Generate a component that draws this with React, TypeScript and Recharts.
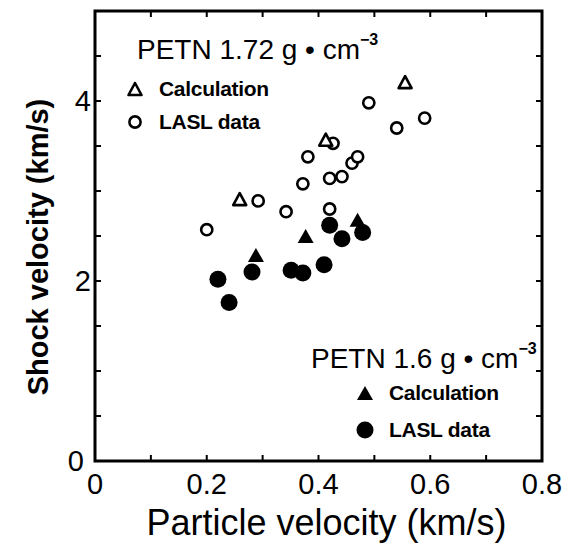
import React from 'react';
import { ScatterChart, Scatter, XAxis, YAxis, ReferenceArea } from 'recharts';

// PETN 1.72 g/cm3
const calc172X = [0.259, 0.413, 0.555];
const calc172Y = [2.91, 3.57, 4.21];
const lasl172X = [0.2, 0.292, 0.342, 0.372, 0.381, 0.42, 0.42, 0.442, 0.426, 0.46, 0.47, 0.49, 0.54, 0.59];
const lasl172Y = [2.57, 2.89, 2.77, 3.08, 3.38, 2.8, 3.14, 3.16, 3.53, 3.31, 3.38, 3.98, 3.7, 3.81];

// PETN 1.6 g/cm3
const calc16X = [0.288, 0.377, 0.47];
const calc16Y = [2.29, 2.5, 2.68];
const lasl16X = [0.22, 0.24, 0.281, 0.351, 0.372, 0.41, 0.42, 0.442, 0.479];
const lasl16Y = [2.02, 1.76, 2.1, 2.12, 2.09, 2.18, 2.62, 2.47, 2.54];

const xTicks = [0, 0.1, 0.2, 0.3, 0.4, 0.5, 0.6, 0.7, 0.8];
const xLabels = ['0', '0.2', '0.4', '0.6', '0.8'];
const yTicks = [0, 0.5, 1, 1.5, 2, 2.5, 3, 3.5, 4, 4.5, 5];
const yLabels = ['0', '2', '4'];

const toPoints = (xs: number[], ys: number[]) => xs.map((x, i) => ({ x, y: ys[i] }));

const FONT = '"Liberation Sans", Arial, sans-serif';

const W = 578;
const H = 547;
const MARGIN = { top: 11, right: 36, bottom: 0, left: 0 };
const X_AXIS_H = 86;
const Y_AXIS_W = 95;
const PLOT_W = W - MARGIN.right - Y_AXIS_W;
const PLOT_H = H - MARGIN.top - X_AXIS_H;

type Kind = 'openTri' | 'openCircle' | 'tri' | 'circle';

function Marker({ cx, cy, kind }: { cx: number; cy: number; kind: Kind }) {
  if (kind === 'openCircle') {
    return <circle cx={cx} cy={cy} r={5.6} fill="#fff" stroke="#000" strokeWidth={2.6} />;
  }
  if (kind === 'circle') {
    return <circle cx={cx} cy={cy} r={8.5} fill="#000" />;
  }
  if (kind === 'openTri') {
    const w = 6.5;
    const h = 6;
    return (
      <polygon
        points={`${cx},${cy - h} ${cx - w},${cy + h} ${cx + w},${cy + h}`}
        fill="#fff"
        stroke="#000"
        strokeWidth={2.6}
        strokeLinejoin="round"
      />
    );
  }
  const w = 8;
  const h = 7;
  return <polygon points={`${cx},${cy - h} ${cx - w},${cy + h} ${cx + w},${cy + h}`} fill="#000" />;
}

const shapeFor = (kind: Kind) => (props: any) => <Marker cx={props.cx} cy={props.cy} kind={kind} />;

// bottom ticks, mirrored on the top edge of the frame
function BottomTick({ x, y, payload }: any) {
  const v = payload.value as number;
  const label = xLabels.find((l) => Math.abs(parseFloat(l) - v) < 1e-6);
  const top = y - PLOT_H;
  return (
    <g>
      <line x1={x} y1={y} x2={x} y2={y - 6} stroke="#000" strokeWidth={2} />
      <line x1={x} y1={top} x2={x} y2={top + 6} stroke="#000" strokeWidth={2} />
      {label && (
        <text x={x} y={y + 33} textAnchor="middle" fontSize={29} fontFamily={FONT} fill="#000">
          {label}
        </text>
      )}
    </g>
  );
}

// left ticks, mirrored on the right edge of the frame
function LeftTick({ x, y, payload }: any) {
  const v = payload.value as number;
  const label = yLabels.find((l) => Math.abs(parseFloat(l) - v) < 1e-6);
  const right = x + PLOT_W;
  return (
    <g>
      <line x1={x} y1={y} x2={x + 6} y2={y} stroke="#000" strokeWidth={2} />
      <line x1={right} y1={y} x2={right - 6} y2={y} stroke="#000" strokeWidth={2} />
      {label && (
        <text x={v === 0 ? x - 11 : x - 4} y={y + 10} textAnchor="end" fontSize={29} fontFamily={FONT} fill="#000">
          {label}
        </text>
      )}
    </g>
  );
}

function LegendRow({ kind, text }: { kind: Kind; text: string }) {
  return (
    <div style={{ display: 'flex', alignItems: 'center', height: 33 }}>
      <svg width={24} height={24} style={{ marginRight: 12 }}>
        <Marker cx={12} cy={12} kind={kind} />
      </svg>
      <span style={{ fontSize: 21, fontWeight: 'bold', letterSpacing: -0.3 }}>{text}</span>
    </div>
  );
}

function Title({ text }: { text: string }) {
  return (
    <div style={{ fontSize: 28, whiteSpace: 'nowrap', lineHeight: '32px' }}>
      {text} <span>•</span> cm
      <sup style={{ fontSize: 16, fontWeight: 'bold', position: 'relative', top: -4 }}>−3</sup>
    </div>
  );
}

export default function App() {
  return (
    <div style={{ position: 'absolute', left: 0, top: 0, width: W, height: H, background: '#fff', fontFamily: FONT }}>
      <ScatterChart width={W} height={H} margin={MARGIN}>
        <XAxis
          xAxisId="b"
          dataKey="x"
          type="number"
          domain={[0, 0.8]}
          ticks={xTicks}
          interval={0}
          height={X_AXIS_H}
          tickSize={0}
          tickMargin={0}
          tickLine={false}
          tick={<BottomTick />}
          axisLine={false}
          label={{
            value: 'Particle velocity (km/s)',
            content: ({ viewBox }: any) => (
              <text
                x={viewBox.x + viewBox.width / 2 + 8}
                y={viewBox.y + 74}
                textAnchor="middle"
                fontSize={36}
                fontFamily={FONT}
                fill="#000"
              >
                Particle velocity (km/s)
              </text>
            ),
          }}
        />
        <YAxis
          yAxisId="l"
          dataKey="y"
          type="number"
          domain={[0, 5]}
          ticks={yTicks}
          interval={0}
          width={Y_AXIS_W}
          tickSize={0}
          tickMargin={0}
          tickLine={false}
          tick={<LeftTick />}
          axisLine={false}
          label={{
            value: 'Shock velocity (km/s)',
            content: ({ viewBox }: any) => {
              const cy = viewBox.y + viewBox.height / 2 + 11;
              return (
                <text
                  x={48}
                  y={cy}
                  transform={`rotate(-90 48 ${cy})`}
                  textAnchor="middle"
                  fontSize={29}
                  fontWeight="bold"
                  fontFamily={FONT}
                  fill="#000"
                >
                  Shock velocity (km/s)
                </text>
              );
            },
          }}
        />
        <ReferenceArea
          xAxisId="b"
          yAxisId="l"
          x1={0}
          x2={0.8}
          y1={0}
          y2={5}
          fill="none"
          fillOpacity={0}
          stroke="#000"
          strokeWidth={3}
          ifOverflow="visible"
        />
        <Scatter xAxisId="b" yAxisId="l" data={toPoints(lasl172X, lasl172Y)} shape={shapeFor('openCircle')} isAnimationActive={false} />
        <Scatter xAxisId="b" yAxisId="l" data={toPoints(calc172X, calc172Y)} shape={shapeFor('openTri')} isAnimationActive={false} />
        <Scatter xAxisId="b" yAxisId="l" data={toPoints(lasl16X, lasl16Y)} shape={shapeFor('circle')} isAnimationActive={false} />
        <Scatter xAxisId="b" yAxisId="l" data={toPoints(calc16X, calc16Y)} shape={shapeFor('tri')} isAnimationActive={false} />
      </ScatterChart>

      <div style={{ position: 'absolute', left: 137, top: 28 }}>
        <Title text="PETN 1.72 g" />
        <div style={{ marginLeft: -14, marginTop: 6 }}>
          <LegendRow kind="openTri" text="Calculation" />
          <LegendRow kind="openCircle" text="LASL data" />
        </div>
      </div>

      <div style={{ position: 'absolute', left: 311, top: 337 }}>
        <Title text="PETN 1.6 g" />
        <div style={{ marginLeft: 42, marginTop: 1 }}>
          <LegendRow kind="tri" text="Calculation" />
          <div style={{ height: 4 }} />
          <LegendRow kind="circle" text="LASL data" />
        </div>
      </div>
    </div>
  );
}
